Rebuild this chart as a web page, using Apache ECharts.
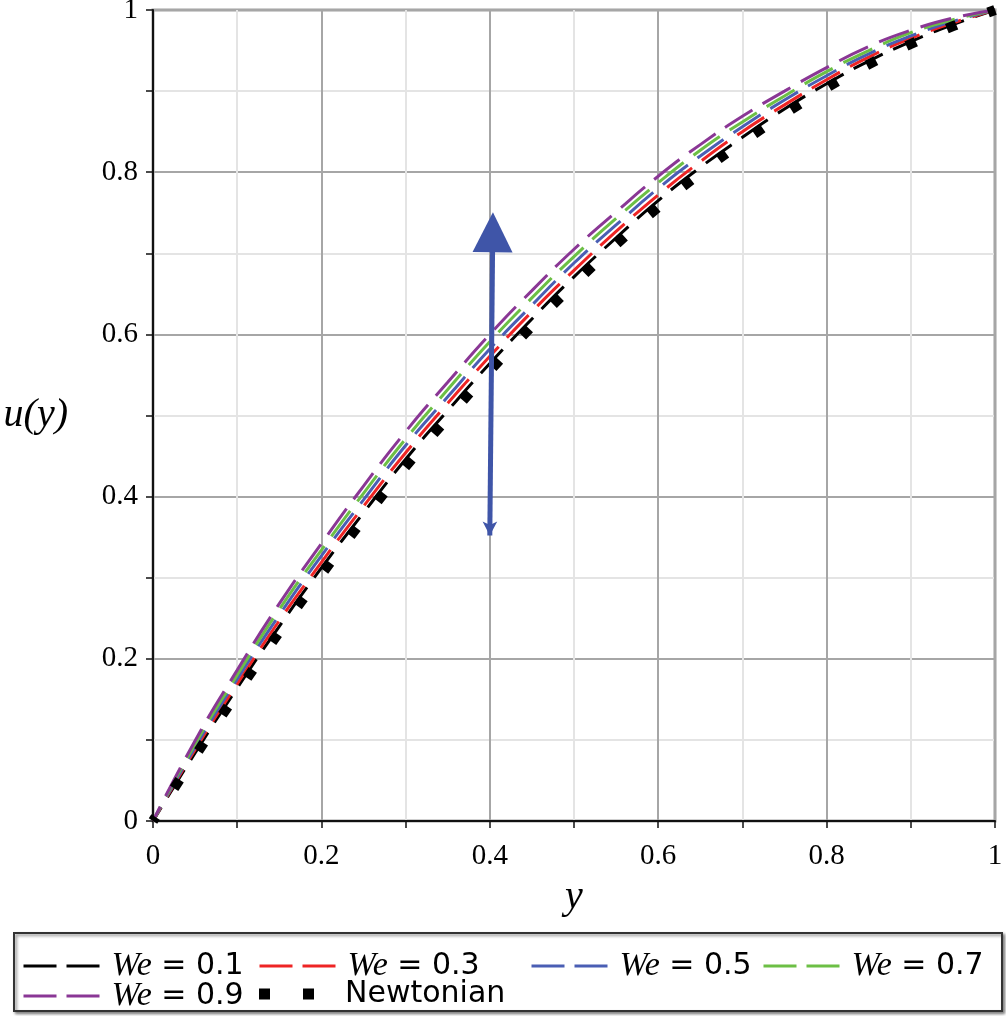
<!DOCTYPE html>
<html><head><meta charset="utf-8">
<script src="https://cdn.jsdelivr.net/npm/echarts@6/dist/echarts.min.js"></script>
<style>html,body{margin:0;padding:0;background:#fff}#c{width:1006px;height:1016px}</style>
</head><body><div id="c"></div>
<script>
// y positions (abscissa)
const yVals = [0,0.05,0.1,0.15,0.2,0.25,0.3,0.35,0.4,0.45,0.5,0.55,0.6,0.65,0.7,0.75,0.8,0.85,0.9,0.95,1];
// velocity profiles u(y)
const uWe01 = [0,0.084,0.164,0.240,0.312,0.380,0.446,0.506,0.564,0.619,0.671,0.719,0.765,0.806,0.843,0.878,0.909,0.937,0.961,0.982,1];
const uWe03 = [0,0.088,0.169,0.247,0.319,0.388,0.454,0.515,0.573,0.628,0.679,0.727,0.772,0.813,0.850,0.883,0.914,0.942,0.965,0.984,1];
const uWe05 = [0,0.091,0.175,0.254,0.327,0.396,0.463,0.523,0.582,0.636,0.688,0.735,0.780,0.820,0.856,0.889,0.919,0.946,0.968,0.986,1];
const uWe07 = [0,0.095,0.180,0.261,0.334,0.404,0.471,0.532,0.591,0.645,0.696,0.743,0.787,0.827,0.862,0.894,0.924,0.950,0.972,0.988,1];
const uWe09 = [0,0.099,0.186,0.268,0.342,0.413,0.480,0.541,0.600,0.654,0.705,0.751,0.795,0.834,0.869,0.900,0.929,0.955,0.975,0.990,1];
const uNewt = [0,0.080,0.158,0.233,0.304,0.372,0.437,0.497,0.555,0.610,0.662,0.711,0.757,0.799,0.837,0.872,0.904,0.933,0.958,0.980,1];
const seriesNames = ['We = 0.1','We = 0.3','We = 0.5','We = 0.7','We = 0.9','Newtonian'];
const seriesColors = ['#000000','#ee2424','#4a5eb4','#6cbf45','#8a3795','#000000'];
// arrow annotation (data coords): from (x0,u0) to (x1,u1)
const arrowFrom = [0.400, 0.352];
const arrowTo = [0.4035, 0.726];

const chart = echarts.init(document.getElementById('c'), null, {renderer:'canvas'});
const pts = arr => yVals.map((x,i)=>[x, arr[i]]);
const weData = [uWe01,uWe03,uWe05,uWe07,uWe09];

const series = weData.map((arr,i)=>({
  type:'line', name: seriesNames[i], data: pts(arr), smooth: true,
  showSymbol:false, symbol:'none', clip:false,
  color: seriesColors[i],
  lineStyle:{color: seriesColors[i], width:3, type:[32,12], dashOffset:16, cap:'butt'}
}));
series.push({
  type:'line', name: seriesNames[5], data: pts(uNewt), smooth:true,
  showSymbol:false, symbol:'none', clip:false, color:'#000',
  lineStyle:{color:'#000', width:10, type:[10,34], dashOffset:5, cap:'butt'}
});
series.push({
  type:'line', name:'arrow', data:[], silent:true,
  markLine:{
    silent:true, animation:false,
    label:{show:false},
    lineStyle:{color:'#3f55a8', width:5, type:'solid'},
    itemStyle:{color:'#3f55a8'},
    emphasis:{disabled:true},
    data:[[
      {coord:arrowFrom, symbol:'arrow', symbolSize:[11,14]},
      {coord:arrowTo, symbol:'triangle', symbolSize:[40,40]}
    ]]
  }
});

const serifFont = '"Liberation Serif", "DejaVu Serif", serif';
const legendRich = {i:{fontFamily:serifFont, fontStyle:'italic', fontSize:34, color:'#000'}};
function mkLegend(name, left, top, isNewt){
  const base = {
    data:[{name:name}], left:left, top:top, padding:0, selectedMode:false, orient:'horizontal',
    itemWidth: 78, itemHeight: 12,
    itemStyle:{opacity:0},
    textStyle:{fontFamily:'"DejaVu Sans", sans-serif', fontSize:30, color:'#000', rich: legendRich, padding:[0,0,0,5]},
    formatter: n => n.indexOf('We')===0 ? '{i|We}' + n.slice(2) : n,
    lineStyle:{width:3, type:[33,10], dashOffset:0}
  };
  if (isNewt){
    base.data = [{name:name, icon:'path://M0,0h11v11h-11zM44,0h11v11h-11z'}];
    base.itemStyle = {color:'#000', opacity:1};
    base.itemWidth = 55; base.itemHeight = 11;
    base.textStyle = Object.assign({}, base.textStyle, {padding:[0,0,0,26]});
  }
  return base;
}
const legends = [
  mkLegend(seriesNames[0], 22, 949),
  mkLegend(seriesNames[1], 258, 949),
  mkLegend(seriesNames[2], 530, 949),
  mkLegend(seriesNames[3], 762, 949),
  mkLegend(seriesNames[4], 22, 979),
  mkLegend(seriesNames[5], 259, 979, true)
];

const axisCommon = {
  type:'value', min:0, max:1, interval:0.2,
  axisLine:{show:true, onZero:false, lineStyle:{color:'#111', width:2}},
  axisTick:{show:true, length:7, lineStyle:{color:'#111', width:1.5}},
  minorTick:{show:true, splitNumber:2, length:7, lineStyle:{color:'#111', width:1.5}},
  splitLine:{show:true, lineStyle:{color:'#a6a6a6', width:2}},
  minorSplitLine:{show:true, lineStyle:{color:'#e4e4e4', width:2}},
  axisLabel:{fontFamily:serifFont, fontSize:29, color:'#000'}
};

chart.setOption({
  animation:false,
  backgroundColor:'#fff',
  grid:{left:153, right:11, top:10, bottom:195, containLabel:false, outerBoundsMode:'none',
        show:true, borderColor:'#a0a0a0', borderWidth:3, backgroundColor:'transparent'},
  xAxis: Object.assign({}, axisCommon, {
    name:'y', nameLocation:'middle', nameGap:56,
    nameTextStyle:{fontFamily:serifFont, fontStyle:'italic', fontSize:40, color:'#000'},
    axisLabel:Object.assign({}, axisCommon.axisLabel, {margin:21})
  }),
  yAxis: Object.assign({}, axisCommon, {
    name:'u(y)', nameLocation:'middle', nameRotate:0, nameGap:85,
    nameTextStyle:{fontFamily:serifFont, fontStyle:'italic', fontSize:40, color:'#000'},
    axisLabel:Object.assign({}, axisCommon.axisLabel, {margin:15})
  }),
  legend: legends,
  graphic:[{
    type:'rect', z:-1, silent:true,
    shape:{x:14, y:933, width:988, height:78},
    style:{fill:'#fff', stroke:'#333', lineWidth:2, shadowBlur:3, shadowOffsetX:2, shadowOffsetY:2, shadowColor:'rgba(0,0,0,0.45)'}
  }],
  series: series
});
</script>
</body></html>
